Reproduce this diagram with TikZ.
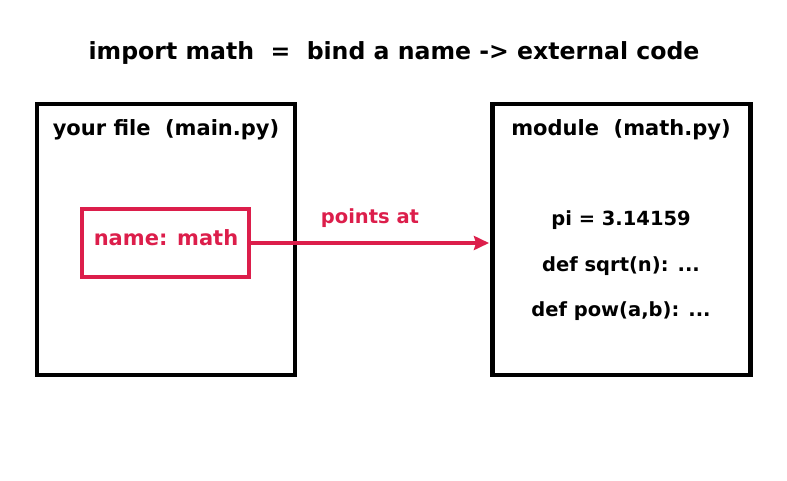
\documentclass[tikz,border=0pt]{standalone}
\usepackage{fontspec}
\setmainfont{DejaVu Sans}
\usetikzlibrary{arrows.meta}
\definecolor{pointred}{RGB}{220,30,75}

\begin{document}
\begin{tikzpicture}[x=1pt,y=-1pt,
        box/.style={draw,line width=4.5pt,minimum width=258pt,minimum height=271pt,inner sep=0pt},
        label/.style={font=\fontsize{21}{23}\selectfont\bfseries},
        code/.style={font=\fontsize{19.5}{21}\selectfont\bfseries}]
    \useasboundingbox (0,0) rectangle (787,480);
    % --- Title ---
    \node[font=\fontsize{23.6}{26}\selectfont\bfseries] (title) at (394,53) {import math\ \ =\ \ bind a name -> external code};
    % --- Your file ---
    \begin{scope}
        \node[box] (file) at (166,239.5) {};
        \node[label] (filelabel) at (166,130) {your file\ \ (main.py)};
        \node[draw=pointred,line width=4pt,minimum width=167pt,minimum height=68pt,inner sep=0pt] (name) at (165.5,243) {};
        \node[text=pointred,font=\fontsize{21}{23}\selectfont\bfseries] (namelabel) at (166,238) {name: math};
    \end{scope}
    % --- Module ---
    \begin{scope}
        \node[box] (module) at (621.5,239.5) {};
        \node[label] (modlabel) at (621,130) {module\ \ (math.py)};
        \node[code] (pi) at (621,220) {pi = 3.14159};
        \node[code] (sqrt) at (621,266) {def sqrt(n): ...};
        \node[code] (pow) at (621,311) {def pow(a,b): ...};
    \end{scope}
    % --- Binding ---
    \coordinate (tip) at (489,243);
    \draw[pointred,line width=4pt,-{Stealth[length=15pt,width=14pt,inset=2pt]}] (name.east) -- (tip)
        node[midway,above=10pt,text=pointred,font=\fontsize{19.5}{21}\selectfont\bfseries] (points) {points at};
\end{tikzpicture}
\end{document}
